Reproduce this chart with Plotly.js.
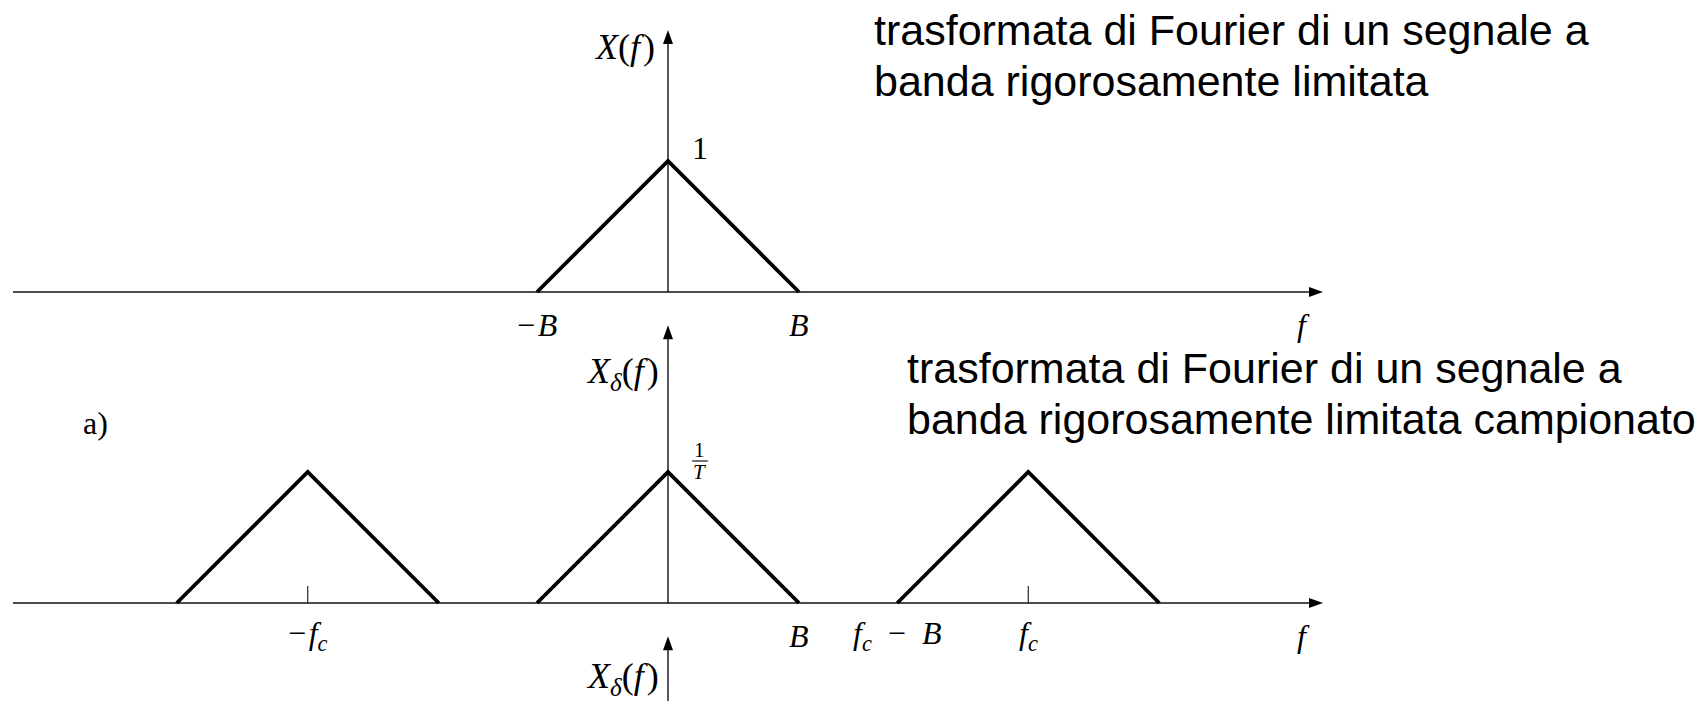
<!DOCTYPE html>
<html>
<head>
<meta charset="utf-8">
<script src="https://cdn.plot.ly/plotly-3.0.1.min.js"></script>
<style>
  html, body { margin: 0; padding: 0; background: #ffffff; }
  #chart { width: 1697px; height: 701px; }
</style>
</head>
<body>
<div id="chart"></div>
<script>
// Spectrum parameters, frequencies in units of B
const bandLimit = 1;            // B
const samplingFreq = 2.75;      // f_c
const peakOriginal = 1;         // X(0) = 1
const peakSampled = 1;          // X_delta(0) = 1/T
const replicaOrders = [-1, 0, 1];
const freqAxisEnds = [-5, 5];
const ampAxisTops = [2.0, 2.12, 2.12];

// Tick labels of each frequency axis
const topTickPos = [-bandLimit, bandLimit, 4.85];
const topTickText = ['−\u200A<i>B</i>', '<i>B</i>', '<i>f</i>'];
const midTickPos = [-samplingFreq, bandLimit, samplingFreq - bandLimit, samplingFreq, 4.85];
const midTickText = [
  '−\u200A<i>f</i><sub><i>c</i></sub>',
  '<i>B</i>',
  '<i>f</i><sub><i>c</i></sub>\u2002−\u2002<i>B</i>',
  '<i>f</i><sub><i>c</i></sub>',
  '<i>f</i>'
];
const ampLabels = [
  '<i>X</i>(<i>f</i>\u200A)',
  '<i>X</i><sub><i>δ</i></sub>(<i>f</i>\u200A)',
  '<i>X</i><sub><i>δ</i></sub>(<i>f</i>\u200A)'
];

// Page geometry: one unit = 131 px on both axes, three stacked panels
const W = 1697, H = 701;
const pxPerUnit = 131;
const originX = 668;
const baselines = [292, 603, 914];

const AXIS_COLOR = '#111111';
const SERIF = 'Liberation Serif, Times New Roman, serif';
const SANS = 'Liberation Sans, Arial, sans-serif';

const yNames = ['y', 'y2', 'y3'];
const traces = [];

function line(xs, ys, yref, width, color) {
  traces.push({
    type: 'scatter', mode: 'lines', x: xs, y: ys, yaxis: yref,
    line: { color: color || '#000', width: width },
    hoverinfo: 'skip', showlegend: false
  });
}
function head(xs, ys, yref) {
  traces.push({
    type: 'scatter', mode: 'lines', x: xs, y: ys, yaxis: yref,
    fill: 'toself', fillcolor: '#000', line: { width: 0, color: '#000' },
    hoverinfo: 'skip', showlegend: false
  });
}

// Arrow head size in axis units
const headLen = 14 / pxPerUnit;
const headHalf = 5 / pxPerUnit;

// Axes of the three panels
yNames.forEach((yr, k) => {
  const x1 = freqAxisEnds[1];
  line([freqAxisEnds[0], x1 - headLen * 0.6], [0, 0], yr, 1.4, AXIS_COLOR);
  head([x1, x1 - headLen, x1 - headLen, x1], [0, headHalf, -headHalf, 0], yr);
  const yt = ampAxisTops[k];
  line([0, 0], [0, yt - headLen * 0.6], yr, 1.4, AXIS_COLOR);
  head([0, headHalf, -headHalf, 0], [yt, yt - headLen, yt - headLen, yt], yr);
});

// Band-limited spectrum X(f)
line([-bandLimit, 0, bandLimit], [0, peakOriginal, 0], 'y', 3.8);

// Sampled spectrum: replicas at multiples of f_c
replicaOrders.forEach(n => {
  const c = n * samplingFreq;
  line([c - bandLimit, c, c + bandLimit], [0, peakSampled, 0], 'y2', 3.8);
  if (n !== 0) line([c, c], [0, 17 / pxPerUnit], 'y2', 1.1, AXIS_COLOR);
});

// Fraction bar of the 1/T label
const fracX = 0.244;
const fracBar = 1.084;
line([fracX - 0.06, fracX + 0.06], [fracBar, fracBar], 'y2', 1.1);

const annotations = [];
function mathLabel(text, x, y, yref, size, extra) {
  annotations.push(Object.assign({
    text: text, x: x, y: y, xref: 'x', yref: yref, showarrow: false,
    xanchor: 'center', yanchor: 'middle', borderpad: 0,
    font: { family: SERIF, size: size, color: '#000' }
  }, extra || {}));
}

const labelDrop = -0.25;
topTickPos.forEach((p, i) => mathLabel(topTickText[i], p, labelDrop, 'y', 32));
midTickPos.forEach((p, i) => mathLabel(midTickText[i], p, labelDrop, 'y2', 32));

mathLabel(ampLabels[0], -0.09, 1.87, 'y', 36, { xanchor: 'right' });
mathLabel(ampLabels[1], -0.06, 1.75, 'y2', 36, { xanchor: 'right' });
mathLabel(ampLabels[2], -0.06, 1.80, 'y3', 36, { xanchor: 'right' });

mathLabel('1', fracX, 1.10, 'y', 32);
mathLabel('1', fracX, fracBar - 0.012, 'y2', 21, { yanchor: 'bottom' });
mathLabel('<i>T</i>', fracX, fracBar + 0.012, 'y2', 21, { yanchor: 'top' });
mathLabel('a)', -4.374, 1.374, 'y2', 32);

// Captions next to the two spectra
function caption(text, px, py) {
  annotations.push({
    text: text, x: px / W, y: 1 - py / H, xref: 'paper', yref: 'paper',
    showarrow: false, xanchor: 'left', yanchor: 'middle',
    font: { family: SANS, size: 43, color: '#000' }
  });
}
caption('trasformata di Fourier di un segnale a', 872, 30);
caption('banda rigorosamente limitata', 872, 81);
caption('trasformata di Fourier di un segnale a', 905, 368);
caption('banda rigorosamente limitata campionato', 905, 419);

function yRange(b) { return [(b - H) / pxPerUnit, b / pxPerUnit]; }
const hidden = { visible: false, fixedrange: true, showgrid: false, zeroline: false };

const layout = {
  width: W, height: H,
  margin: { l: 0, r: 0, t: 0, b: 0, pad: 0 },
  paper_bgcolor: '#ffffff', plot_bgcolor: '#ffffff',
  showlegend: false,
  xaxis: Object.assign({ range: [-originX / pxPerUnit, (W - originX) / pxPerUnit], domain: [0, 1] }, hidden),
  yaxis: Object.assign({ range: yRange(baselines[0]), domain: [0, 1] }, hidden),
  yaxis2: Object.assign({ range: yRange(baselines[1]), overlaying: 'y' }, hidden),
  yaxis3: Object.assign({ range: yRange(baselines[2]), overlaying: 'y' }, hidden),
  annotations: annotations
};

Plotly.newPlot('chart', traces, layout, { staticPlot: true, displayModeBar: false });
</script>
</body>
</html>
